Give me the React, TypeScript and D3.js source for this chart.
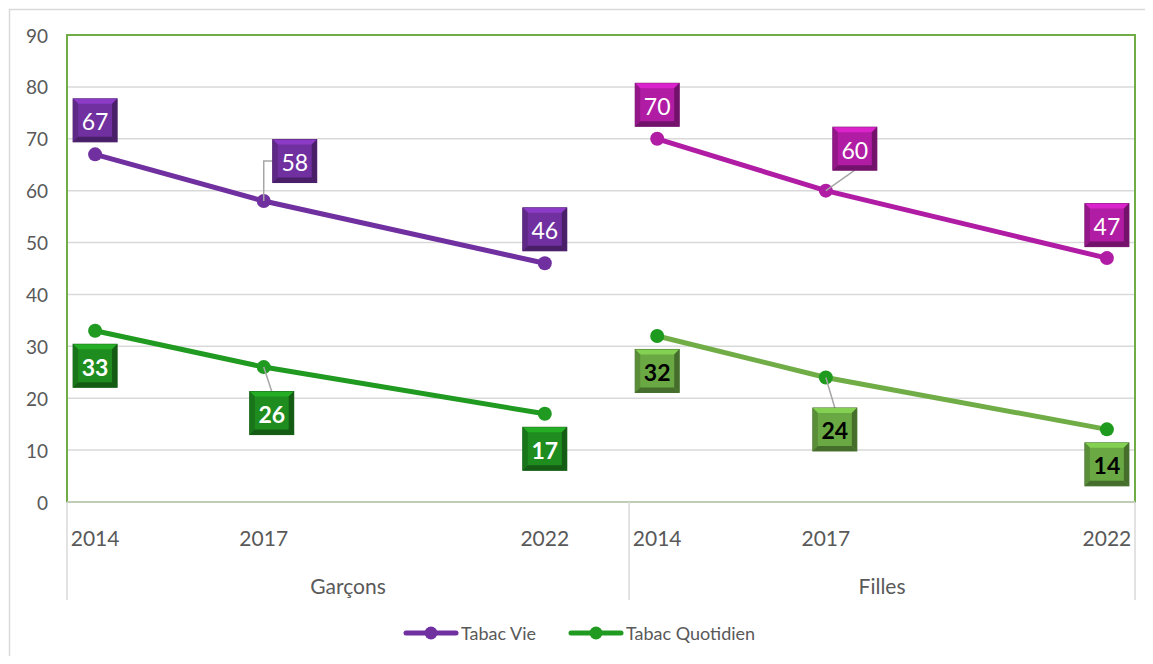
import React from 'react';
import * as d3 from 'd3';

const groups = ['Garçons', 'Filles'];
const years = [2014, 2017, 2022];
const yTicks = [0, 10, 20, 30, 40, 50, 60, 70, 80, 90];

const vieGarcons = [67, 58, 46];
const vieFilles = [70, 60, 47];
const quotGarcons = [33, 26, 17];
const quotFilles = [32, 24, 14];

// label placement relative to the point (box centre), plus leader style
const labelPos = {
  vieGarcons: [[0, -34], [31, -40, 'elbow'], [0, -34]],
  vieFilles: [[0, -34], [29, -42, 'bottom'], [0, -33]],
  quotGarcons: [[0, 35], [8, 46, 'top'], [0, 35]],
  quotFilles: [[0, 35], [9, 52, 'top'], [0, 35]],
};

const FONT = 'Lato, "Open Sans", sans-serif';
const GREY = '#595959';

const series = [
  { key: 'vieGarcons', group: 0, values: vieGarcons, line: '#7030A0', dot: '#7030A0', box: '#7030A0', text: '#fff', bold: false },
  { key: 'vieFilles', group: 1, values: vieFilles, line: '#B01CA4', dot: '#B01CA4', box: '#B01CA4', text: '#fff', bold: false },
  { key: 'quotGarcons', group: 0, values: quotGarcons, line: '#209A20', dot: '#209A20', box: '#1E8C1E', text: '#fff', bold: true },
  { key: 'quotFilles', group: 1, values: quotFilles, line: '#70AD47', dot: '#1E9A1E', box: '#6AA843', text: '#000', bold: true },
];

const slot = (g: number, year: number) => g * 10 + (year - years[0]);

const x = d3.scaleLinear().domain([-0.5, 18.5]).range([67, 1135]);
const y = d3.scaleLinear().domain([0, 90]).range([502, 35]);

const BW = 44;
const BH = 43;

const Box = ({ cx, cy, color, text, textColor, bold }) => {
  const l = cx - BW / 2, t = cy - BH / 2, r = cx + BW / 2, b = cy + BH / 2;
  const e = 5;
  const c = d3.color(color);
  const light = c.brighter(0.6).formatHex();
  const dark = c.darker(1.2).formatHex();
  const mid = c.darker(0.5).formatHex();
  return (
    <g>
      <rect x={l} y={t} width={BW} height={BH} fill={color} stroke={dark} strokeWidth={1} />
      <polygon points={`${l},${t} ${r},${t} ${r - e},${t + e} ${l + e},${t + e}`} fill={light} />
      <polygon points={`${l},${t} ${l + e},${t + e} ${l + e},${b - e} ${l},${b}`} fill={mid} />
      <polygon points={`${r},${t} ${r},${b} ${r - e},${b - e} ${r - e},${t + e}`} fill={dark} />
      <polygon points={`${l},${b} ${r},${b} ${r - e},${b - e} ${l + e},${b - e}`} fill={dark} />
      <text x={cx} y={cy + 1} textAnchor="middle" dominantBaseline="central" fill={textColor}
        fontFamily={FONT} fontSize={23} fontWeight={bold ? 700 : 400}>{text}</text>
    </g>
  );
};

export default function App() {
  const line = d3.line<[number, number]>().x(d => d[0]).y(d => d[1]);
  const sepX = [x(-0.5), x(9.5), x(18.5)];

  return (
    <svg width={1145} height={656} style={{ display: 'block', marginBottom: -8 }}>
      <g transform="translate(-8,-8)">
        <rect x={9.5} y={9.5} width={1300} height={800} fill="#fff" stroke="#D9D9D9" strokeWidth={1.5} />

        {/* grid */}
        {yTicks.map(t => (
          <g key={t}>
            {t > 0 && <line x1={67} x2={1135} y1={y(t)} y2={y(t)} stroke="#D9D9D9" strokeWidth={1.5} />}
            <text x={48} y={y(t)} textAnchor="end" dominantBaseline="central" fill={GREY}
              fontFamily={FONT} fontSize={19}>{t}</text>
          </g>
        ))}

        {/* plot area border */}
        <rect x={67} y={35} width={1068} height={467} fill="none" stroke="#70AD47" strokeWidth={2} />

        {/* category axis */}
        <line x1={67} x2={1135} y1={502} y2={502} stroke="#D9D9D9" strokeWidth={1.5} />
        {sepX.map((sx, i) => (
          <line key={i} x1={sx} x2={sx} y1={502} y2={600} stroke="#D9D9D9" strokeWidth={1.5} />
        ))}
        {groups.map((g, gi) => (
          <g key={g}>
            {years.map(yr => (
              <text key={yr} x={x(slot(gi, yr))} y={537} textAnchor="middle" dominantBaseline="central"
                fill={GREY} fontFamily={FONT} fontSize={21}>{yr}</text>
            ))}
            <text x={(sepX[gi] + sepX[gi + 1]) / 2} y={585} textAnchor="middle" dominantBaseline="central"
              fill={GREY} fontFamily={FONT} fontSize={21}>{g}</text>
          </g>
        ))}

        {/* series */}
        {series.map(s => {
          const pts: [number, number][] = s.values.map((v, i) => [x(slot(s.group, years[i])), y(v)]);
          return (
            <g key={s.key}>
              <path d={line(pts) || ''} fill="none" stroke={s.line} strokeWidth={5} strokeLinecap="round" />
              {pts.map((p, i) => (
                <circle key={i} cx={p[0]} cy={p[1]} r={7} fill={s.dot} />
              ))}
            </g>
          );
        })}

        {/* leader lines and labels */}
        {series.map(s => {
          const pts: [number, number][] = s.values.map((v, i) => [x(slot(s.group, years[i])), y(v)]);
          return (
            <g key={s.key + 'lab'}>
              {pts.map((p, i) => {
                const [dx, dy, kind] = labelPos[s.key][i];
                const cx = p[0] + dx, cy = p[1] + dy;
                let leader = null;
                if (kind === 'elbow') {
                  leader = <polyline points={`${p[0]},${p[1]} ${p[0]},${cy} ${cx - BW / 2},${cy}`} fill="none" stroke="#A6A6A6" strokeWidth={1.5} />;
                } else if (kind === 'bottom') {
                  leader = <line x1={p[0]} y1={p[1]} x2={cx} y2={cy + BH / 2} stroke="#A6A6A6" strokeWidth={1.5} />;
                } else if (kind === 'top') {
                  leader = <line x1={p[0]} y1={p[1]} x2={cx} y2={cy - BH / 2} stroke="#A6A6A6" strokeWidth={1.5} />;
                }
                return (
                  <g key={i}>
                    {leader}
                    <Box cx={cx} cy={cy} color={s.box} text={s.values[i]} textColor={s.text} bold={s.bold} />
                  </g>
                );
              })}
            </g>
          );
        })}

        {/* legend */}
        {[
          { label: 'Tabac Vie', color: '#7030A0', x0: 406 },
          { label: 'Tabac Quotidien', color: '#209A20', x0: 571 },
        ].map(l => (
          <g key={l.label}>
            <line x1={l.x0} x2={l.x0 + 50} y1={633} y2={633} stroke={l.color} strokeWidth={5} strokeLinecap="round" />
            <circle cx={l.x0 + 25} cy={633} r={6.5} fill={l.color} />
            <text x={l.x0 + 55} y={633} dominantBaseline="central" fill={GREY} fontFamily={FONT} fontSize={18}>{l.label}</text>
          </g>
        ))}
      </g>
    </svg>
  );
}
